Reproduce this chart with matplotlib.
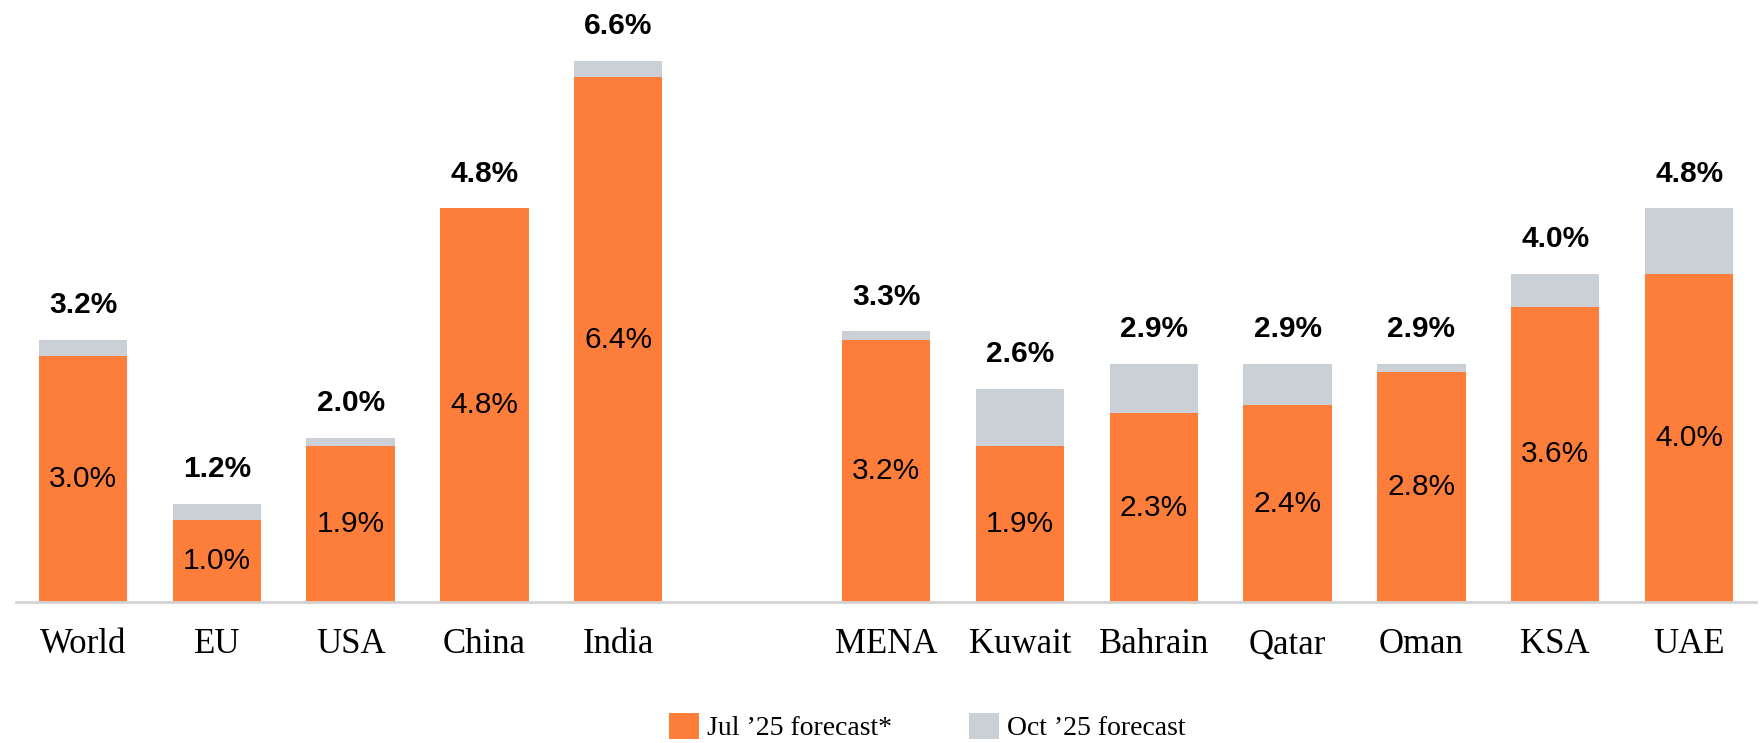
import matplotlib
matplotlib.use("Agg")
import matplotlib.pyplot as plt
from matplotlib.patches import Patch

categories = ["World", "EU", "USA", "China", "India", "",
              "MENA", "Kuwait", "Bahrain", "Qatar", "Oman", "KSA", "UAE"]
jul_forecast = [3.0, 1.0, 1.9, 4.8, 6.4, None, 3.2, 1.9, 2.3, 2.4, 2.8, 3.6, 4.0]
oct_forecast = [3.2, 1.2, 2.0, 4.8, 6.6, None, 3.3, 2.6, 2.9, 2.9, 2.9, 4.0, 4.8]
legend_labels = ["Jul \u201925 forecast*", "Oct \u201925 forecast"]

ORANGE = "#FD7E3B"
GRAY = "#CBCFD6"
SANS = "Liberation Sans"
SERIF = "Liberation Serif"

fig = plt.figure(figsize=(17.62, 7.43), dpi=100)
ax = fig.add_axes([16 / 1762, (743 - 602) / 743, (1756 - 16) / 1762, 602 / 743])

width = 0.66
for i, (cat, j, o) in enumerate(zip(categories, jul_forecast, oct_forecast)):
    if j is None:
        continue
    ax.bar(i, j, width=width, color=ORANGE, linewidth=0)
    if o > j:
        ax.bar(i, o - j, bottom=j, width=width, color=GRAY, linewidth=0)
    ax.text(i, j / 2, f"{j:.1f}%", ha="center", va="center",
            fontsize=21.5, family=SANS, color="black")
    ax.annotate(f"{o:.1f}%", xy=(i, max(o, j)), xytext=(0, 15),
                textcoords="offset points", ha="center", va="bottom",
                fontsize=21.5, fontweight="bold", family=SANS, color="black")

ax.set_xlim(-0.5, len(categories) - 0.5)
ax.set_ylim(0, 602 / 82)
ax.set_xticks(range(len(categories)))
ax.set_xticklabels(categories, family=SERIF, fontsize=25, va="baseline")
ax.tick_params(axis="x", length=0, pad=37)
ax.set_yticks([])
for s in ["top", "right", "left"]:
    ax.spines[s].set_visible(False)
ax.spines["bottom"].set_color("#D3D3D3")
ax.spines["bottom"].set_linewidth(2)

handles = [Patch(facecolor=ORANGE, edgecolor="none"),
           Patch(facecolor=GRAY, edgecolor="none")]
fig.legend(handles, legend_labels, loc="center",
           bbox_to_anchor=(927 / 1762, 1 - 727 / 743), ncol=2, frameon=False,
           prop={"family": SERIF, "size": 20}, handlelength=1.08,
           handleheight=1.08, handletextpad=0.29, columnspacing=2.77,
           borderpad=0)

fig.savefig("out.png", dpi=100)
